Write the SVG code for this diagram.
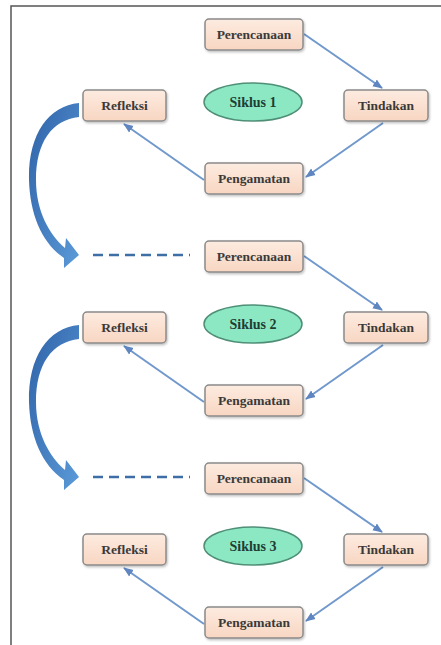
<svg xmlns="http://www.w3.org/2000/svg" width="441" height="645" viewBox="0 0 441 645">
<style>
.box{fill:url(#peach);stroke:#8a8a8a;stroke-width:1.5;filter:url(#sh)}
.ell{fill:#8ce8c3;stroke:#4f8f78;stroke-width:1.5}
.t{font-family:'Liberation Serif','Times New Roman','DejaVu Serif',serif;font-size:13.5px;font-weight:bold;fill:#3a3a3a;text-anchor:middle}
.ts{font-family:'Liberation Serif','Times New Roman','DejaVu Serif',serif;font-size:14px;font-weight:bold;fill:#1f3d33;text-anchor:middle}
.con{stroke:#7098cc;stroke-width:2;fill:none;marker-end:url(#ah)}
.dash{stroke:#3d6ea6;stroke-width:2.5;stroke-dasharray:10 6;fill:none}
.big{fill:url(#blue)}
</style>
<defs>
<linearGradient id="peach" x1="0" y1="0" x2="0" y2="1"><stop offset="0" stop-color="#fdebe0"/><stop offset="1" stop-color="#f8d6c2"/></linearGradient>
<linearGradient id="blue" x1="0" y1="0" x2="1" y2="1"><stop offset="0" stop-color="#2f62a8"/><stop offset="1" stop-color="#5b9ad8"/></linearGradient>
<filter id="sh" x="-10%" y="-20%" width="130%" height="160%"><feDropShadow dx="1" dy="1.5" stdDeviation="1" flood-color="#000" flood-opacity="0.25"/></filter>
<marker id="ah" markerUnits="userSpaceOnUse" markerWidth="10" markerHeight="10" viewBox="0 0 10 10" refX="9" refY="5" orient="auto"><path d="M0,1 L10,5 L0,9 Z" fill="#5f86c0"/></marker>
</defs>
<rect width="441" height="645" fill="#ffffff"/>
<path d="M11,645 L11,6 L441,6" fill="none" stroke="#555" stroke-width="1.5"/>

<g id="connectors">
<line class="con" x1="304" y1="34" x2="382" y2="88"/>
<line class="con" x1="383" y1="123" x2="306" y2="177"/>
<line class="con" x1="204" y1="180" x2="124" y2="124"/>
<line class="con" x1="304" y1="256" x2="382" y2="310"/>
<line class="con" x1="383" y1="345" x2="306" y2="399"/>
<line class="con" x1="204" y1="402" x2="124" y2="346"/>
<line class="con" x1="304" y1="478" x2="382" y2="532"/>
<line class="con" x1="383" y1="567" x2="306" y2="621"/>
<line class="con" x1="204" y1="624" x2="124" y2="568"/>
<path class="big" d="M79,103 C48,106 28,135 29,180 C30,215 42,243 64,258 L64,268 L79,255 L66,238 L65,248 C50,235 36,212 36,180 C36,142 52,120 79,117 Z"/>
<path class="big" transform="translate(0,222)" d="M79,103 C48,106 28,135 29,180 C30,215 42,243 64,258 L64,268 L79,255 L66,238 L65,248 C50,235 36,212 36,180 C36,142 52,120 79,117 Z"/>
<line class="dash" x1="93" y1="255" x2="190" y2="255"/>
<line class="dash" x1="93" y1="477" x2="190" y2="477"/>
</g>

<g id="perencanaan1"><rect class="box" x="205" y="19" width="98" height="31" rx="4"/><text class="t" x="254" y="39">Perencanaan</text></g>
<g id="refleksi1"><rect class="box" x="83" y="90" width="83" height="31" rx="4"/><text class="t" x="124.5" y="110">Refleksi</text></g>
<g id="siklus1"><ellipse class="ell" cx="253" cy="102" rx="49" ry="19"/><text class="ts" x="253" y="107">Siklus 1</text></g>
<g id="tindakan1"><rect class="box" x="344" y="90" width="84" height="31" rx="4"/><text class="t" x="386" y="110">Tindakan</text></g>
<g id="pengamatan1"><rect class="box" x="205" y="163" width="98" height="31" rx="4"/><text class="t" x="254" y="183">Pengamatan</text></g>

<g id="perencanaan2"><rect class="box" x="205" y="241" width="98" height="31" rx="4"/><text class="t" x="254" y="261">Perencanaan</text></g>
<g id="refleksi2"><rect class="box" x="83" y="312" width="83" height="31" rx="4"/><text class="t" x="124.5" y="332">Refleksi</text></g>
<g id="siklus2"><ellipse class="ell" cx="253" cy="324" rx="49" ry="19"/><text class="ts" x="253" y="329">Siklus 2</text></g>
<g id="tindakan2"><rect class="box" x="344" y="312" width="84" height="31" rx="4"/><text class="t" x="386" y="332">Tindakan</text></g>
<g id="pengamatan2"><rect class="box" x="205" y="385" width="98" height="31" rx="4"/><text class="t" x="254" y="405">Pengamatan</text></g>

<g id="perencanaan3"><rect class="box" x="205" y="463" width="98" height="31" rx="4"/><text class="t" x="254" y="483">Perencanaan</text></g>
<g id="refleksi3"><rect class="box" x="83" y="534" width="83" height="31" rx="4"/><text class="t" x="124.5" y="554">Refleksi</text></g>
<g id="siklus3"><ellipse class="ell" cx="253" cy="546" rx="49" ry="19"/><text class="ts" x="253" y="551">Siklus 3</text></g>
<g id="tindakan3"><rect class="box" x="344" y="534" width="84" height="31" rx="4"/><text class="t" x="386" y="554">Tindakan</text></g>
<g id="pengamatan3"><rect class="box" x="205" y="607" width="98" height="31" rx="4"/><text class="t" x="254" y="627">Pengamatan</text></g>
</svg>
